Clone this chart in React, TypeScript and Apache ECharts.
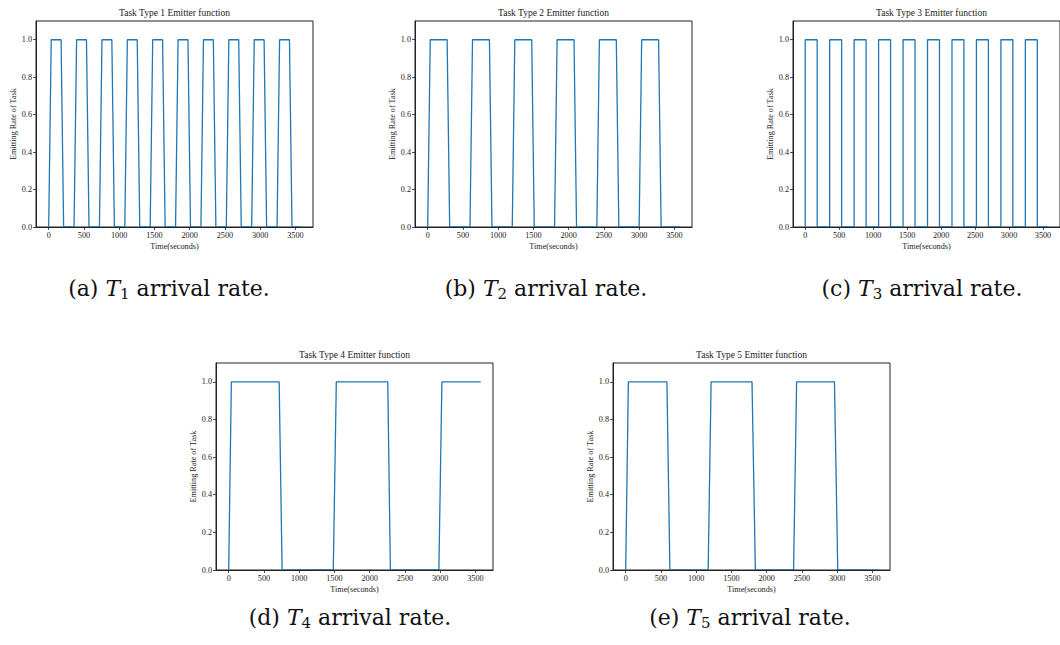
import React, { useEffect, useRef } from "react";
import * as echarts from "echarts";

// ---- data ----
const xTicks = [0, 500, 1000, 1500, 2000, 2500, 3000, 3500];
const yTicks = [0, 0.2, 0.4, 0.6, 0.8, 1.0];

const t1Time = [0, 36, 176, 212, 360, 396, 536, 572, 720, 756, 896, 932, 1080, 1116, 1256, 1292, 1440, 1476, 1616, 1652, 1800, 1836, 1976, 2012, 2160, 2196, 2336, 2372, 2520, 2556, 2696, 2732, 2880, 2916, 3056, 3092, 3240, 3276, 3416, 3452, 3575];
const t1Rate = [0, 1, 1, 0, 0, 1, 1, 0, 0, 1, 1, 0, 0, 1, 1, 0, 0, 1, 1, 0, 0, 1, 1, 0, 0, 1, 1, 0, 0, 1, 1, 0, 0, 1, 1, 0, 0, 1, 1, 0, 0];

const t2Time = [0, 36, 276, 312, 600, 636, 876, 912, 1200, 1236, 1476, 1512, 1800, 1836, 2076, 2112, 2400, 2436, 2676, 2712, 3000, 3036, 3276, 3312, 3575];
const t2Rate = [0, 1, 1, 0, 0, 1, 1, 0, 0, 1, 1, 0, 0, 1, 1, 0, 0, 1, 1, 0, 0, 1, 1, 0, 0];

const t3Time = [0, 0, 176, 176, 360, 360, 536, 536, 720, 720, 896, 896, 1080, 1080, 1256, 1256, 1440, 1440, 1616, 1616, 1800, 1800, 1976, 1976, 2160, 2160, 2336, 2336, 2520, 2520, 2696, 2696, 2880, 2880, 3056, 3056, 3240, 3240, 3416, 3416, 3575];
const t3Rate = [0, 1, 1, 0, 0, 1, 1, 0, 0, 1, 1, 0, 0, 1, 1, 0, 0, 1, 1, 0, 0, 1, 1, 0, 0, 1, 1, 0, 0, 1, 1, 0, 0, 1, 1, 0, 0, 1, 1, 0, 0];

const t4Time = [0, 38, 716, 758, 1484, 1527, 2257, 2294, 2982, 3025, 3575];
const t4Rate = [0, 1, 1, 0, 0, 1, 1, 0, 0, 1, 1];

const t5Time = [0, 38, 585, 627, 1170, 1212, 1792, 1840, 2382, 2425, 2962, 3009, 3575];
const t5Rate = [0, 1, 1, 0, 0, 1, 1, 0, 0, 1, 1, 0, 0];

const plotTitles = [
  "Task Type 1 Emitter function",
  "Task Type 2 Emitter function",
  "Task Type 3 Emitter function",
  "Task Type 4 Emitter function",
  "Task Type 5 Emitter function",
];
const captionLetters = ["a", "b", "c", "d", "e"];
const captionSubs = ["1", "2", "3", "4", "5"];

const seriesTimes = [t1Time, t2Time, t3Time, t4Time, t5Time];
const seriesRates = [t1Rate, t2Rate, t3Rate, t4Rate, t5Rate];

// ---- layout ----
const grids = [
  { left: 36, top: 21, width: 277, height: 206 },
  { left: 415, top: 21, width: 277, height: 206 },
  { left: 793, top: 21, width: 277, height: 206 },
  { left: 216, top: 363, width: 277, height: 207 },
  { left: 613, top: 363, width: 277, height: 207 },
];
const captionPos = [
  { x: 169, y: 288 },
  { x: 546, y: 288 },
  { x: 922, y: 288 },
  { x: 350, y: 617 },
  { x: 750, y: 617 },
];

const SERIF = "Liberation Serif, Times New Roman, serif";
const TXT = "#1a1a1a";

export default function App() {
  const ref = useRef<HTMLDivElement>(null);
  useEffect(() => {
    if (!ref.current) return;
    const chart = echarts.init(ref.current, undefined, { renderer: "svg" });

    const option: any = {
      animation: false,
      backgroundColor: "#ffffff",
      title: grids.map((g, i) => ({
        text: plotTitles[i],
        left: g.left + g.width / 2,
        top: g.top - 13,
        textAlign: "center",
        padding: 0,
        textStyle: { fontFamily: SERIF, fontSize: 9.5, fontWeight: "normal", color: TXT },
      })),
      grid: grids.map((g) => ({
        left: g.left,
        top: g.top,
        width: g.width,
        height: g.height,
        show: true,
        borderColor: "#222",
        borderWidth: 1,
        backgroundColor: "transparent",
        containLabel: false,
      })),
      xAxis: grids.map((g, i) => ({
        type: "value",
        gridIndex: i,
        min: -180,
        max: 3750,
        z: 3,
        axisLine: { show: true, onZero: false, lineStyle: { color: "#222", width: 1 } },
        axisTick: { show: true, customValues: xTicks, length: 3, lineStyle: { color: "#222", width: 0.8 } },
        axisLabel: {
          customValues: xTicks,
          formatter: (v: number) => String(v),
          fontFamily: SERIF,
          fontSize: 8.2,
          color: TXT,
          margin: 4,
        },
        splitLine: { show: false },
        name: "Time(seconds)",
        nameLocation: "middle",
        nameGap: 15,
        nameTextStyle: { fontFamily: SERIF, fontSize: 8.2, color: TXT },
      })),
      yAxis: grids.map((g, i) => ({
        type: "value",
        gridIndex: i,
        min: 0,
        max: 1.1,
        z: 3,
        axisLine: { show: true, onZero: false, lineStyle: { color: "#222", width: 1 } },
        axisTick: { show: true, customValues: yTicks, length: 3, lineStyle: { color: "#222", width: 0.8 } },
        axisLabel: {
          customValues: yTicks,
          formatter: (v: number) => v.toFixed(1),
          fontFamily: SERIF,
          fontSize: 8.2,
          color: TXT,
          margin: 4,
        },
        splitLine: { show: false },
        name: "Emitting Rate of Task",
        nameLocation: "middle",
        nameGap: 18,
        nameRotate: 90,
        nameTextStyle: { fontFamily: SERIF, fontSize: 8.2, color: TXT },
      })),
      series: seriesTimes.map((times, i) => ({
        type: "line",
        xAxisIndex: i,
        yAxisIndex: i,
        showSymbol: false,
        symbol: "none",
        clip: true,
        z: 2,
        lineStyle: { color: "#1f77b4", width: 1.3 },
        data: times.map((t, k) => [t, seriesRates[i][k]]),
      })),
      graphic: captionPos.map((p, i) => ({
        type: "text",
        x: p.x,
        y: p.y,
        style: {
          text: `{n|(${captionLetters[i]}) }{i|T}{s|${captionSubs[i]}}{n| arrival rate.}`,
          align: "center",
          verticalAlign: "middle",
          fill: "#111",
          rich: {
            n: { fontFamily: "DejaVu Serif", fontSize: 22, lineHeight: 26, verticalAlign: "middle", fill: "#111" },
            i: { fontFamily: "DejaVu Serif", fontStyle: "italic", fontSize: 22, lineHeight: 26, verticalAlign: "middle", fill: "#111" },
            s: { fontFamily: "DejaVu Serif", fontSize: 15, lineHeight: 14, verticalAlign: "bottom", fill: "#111" },
          },
        },
      })),
    };

    chart.setOption(option);
    return () => chart.dispose();
  }, []);

  return (
    <div
      ref={ref}
      style={{ position: "fixed", left: 0, top: 0, width: 1060, height: 645, background: "#fff" }}
    />
  );
}
